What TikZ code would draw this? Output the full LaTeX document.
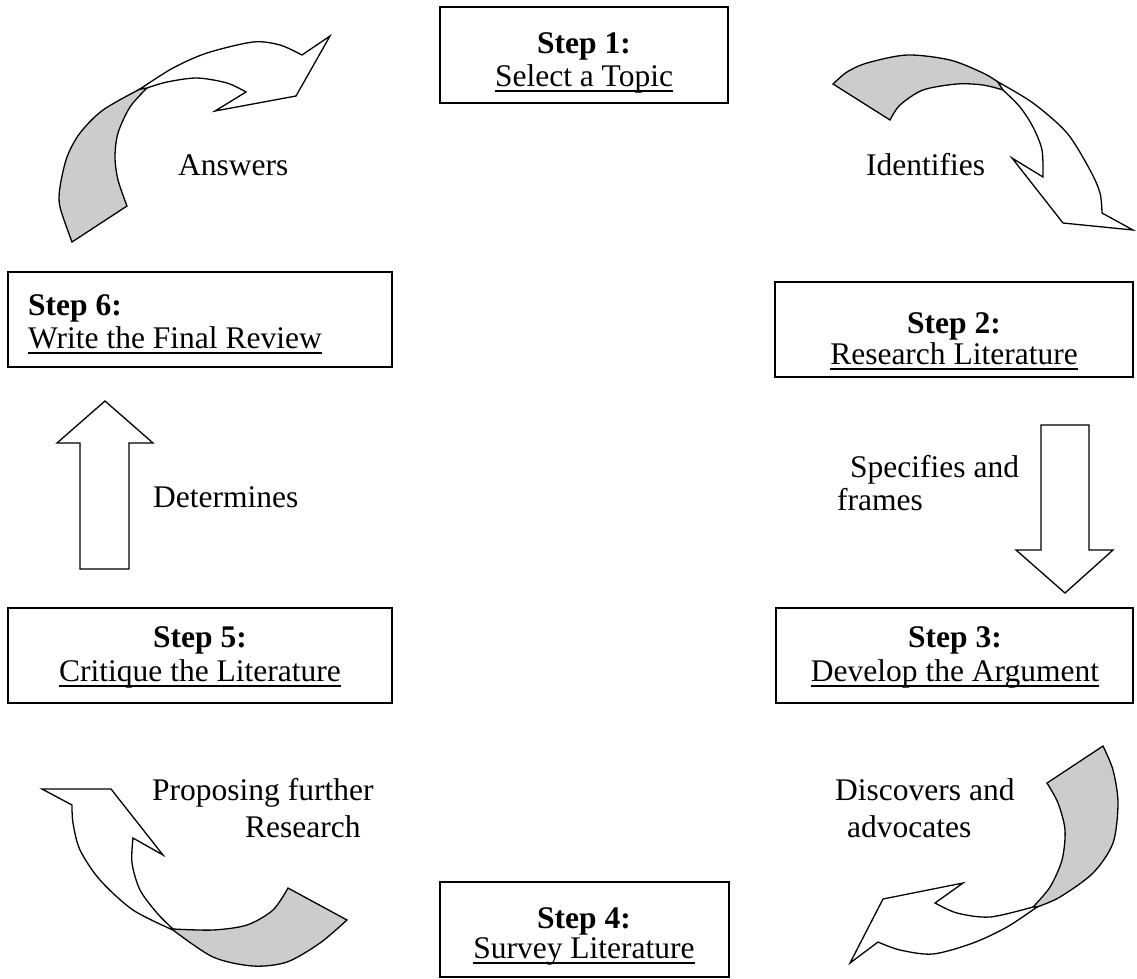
\documentclass[tikz,border=0pt]{standalone}
\usepackage{fontspec}
\setmainfont{Liberation Serif}
\usetikzlibrary{fit}
\definecolor{ribbon}{HTML}{CCCCCC}
\newcommand\myul[1]{\setbox0\hbox{#1}\rlap{\rule[-6pt]{\wd0}{1.8pt}}\box0}
\tikzset{
  stepbox/.style={draw, line width=1.6pt, inner sep=0pt, rectangle},
  lbl/.style={inner sep=0pt, font=\fontsize{31.5}{32}\selectfont},
  blockarrow/.style={draw, line width=1.3pt, fill=white, line join=miter},
  backside/.style={draw, line width=1.3pt, fill=ribbon, line join=miter},
}
\begin{document}
\begin{tikzpicture}[x=1pt,y=-1pt]
\useasboundingbox (0,0) rectangle (1137,978);

% step boxes
\node[stepbox, fit={(440,7)(728,103)}] (s1) {};
\node[stepbox, fit={(775,282)(1133,377)}] (s2) {};
\node[stepbox, fit={(776,608)(1133,703)}] (s3) {};
\node[stepbox, fit={(440,882)(729,977)}] (s4) {};
\node[stepbox, fit={(8,608)(392,703)}] (s5) {};
\node[stepbox, fit={(8,272)(392,367)}] (s6) {};

\node[lbl, anchor=base] (s1a) at (584,53) {\bfseries Step 1:};
\node[lbl, anchor=base] (s1b) at (584,86) {\myul{Select a Topic}};
\node[lbl, anchor=base] (s2a) at (954,333) {\bfseries Step 2:};
\node[lbl, anchor=base] (s2b) at (954,364) {\myul{Research Literature}};
\node[lbl, anchor=base] (s3a) at (955,647) {\bfseries Step 3:};
\node[lbl, anchor=base] (s3b) at (955,681) {\myul{Develop the Argument}};
\node[lbl, anchor=base] (s4a) at (584,928) {\bfseries Step 4:};
\node[lbl, anchor=base] (s4b) at (584,958) {\myul{Survey Literature}};
\node[lbl, anchor=base] (s5a) at (200,647) {\bfseries Step 5:};
\node[lbl, anchor=base] (s5b) at (200,681) {\myul{Critique the Literature}};
\node[lbl, anchor=base west] (s6a) at (28,315) {\bfseries Step 6:};
\node[lbl, anchor=base west] (s6b) at (28,348) {\myul{Write the Final Review}};

% straight block arrows
\draw[blockarrow] (1041,425) -- (1089,425) -- (1089,550) -- (1113,550) -- (1065,593) -- (1016,550) -- (1041,550) -- cycle;
\draw[blockarrow] (80,569) -- (80,443) -- (57,443) -- (105,401) -- (153,443) -- (129,443) -- (129,569) -- cycle;

% top-left curved arrow (Answers)
\draw[backside] plot[smooth] coordinates {(72,242) (60,207) (60,187) (67,157) (80,133) (103,110) (140,89)}
  -- plot[smooth] coordinates {(147,88) (130,107) (118,133) (115,157) (118,180) (127,206)} -- cycle;
\draw[blockarrow] plot[smooth] coordinates {(140,89) (173,68) (207,53) (253,42) (280,45) (302,55)}
  -- (330,36) -- (296,96) -- (215,111)
  -- plot[smooth] coordinates {(246,92) (227,83) (197,78) (167,82) (147,88)} -- cycle;

% top-right curved arrow (Identifies)
\draw[backside] plot[smooth] coordinates {(833,84) (847,72) (867,63) (907,55) (950,60) (983,73) (998,82)}
  -- plot[smooth] coordinates {(1003,90) (983,85) (957,84) (923,90) (900,105) (890,120)} -- cycle;
\draw[blockarrow] plot[smooth] coordinates {(998,82) (1033,103) (1067,133) (1090,170) (1100,193) (1102,213)}
  -- (1133,230) -- (1063,223) -- (1012,158)
  -- plot[smooth] coordinates {(1043,177) (1042,150) (1033,127) (1020,107) (1003,90)} -- cycle;

% bottom-right curved arrow (Discovers and advocates)
\draw[backside] plot[smooth] coordinates {(1103,746) (1113,770) (1118,803) (1113,843) (1093,873) (1060,897) (1037,907)}
  -- plot[smooth] coordinates {(1033,907) (1050,887) (1062,860) (1065,830) (1058,803) (1047,783)} -- cycle;
\draw[blockarrow] plot[smooth] coordinates {(1037,907) (1007,927) (973,943) (933,954) (900,950) (878,942)}
  -- (850,963) -- (883,899) -- (963,883)
  -- plot[smooth] coordinates {(935,903) (957,913) (990,917) (1033,907)} -- cycle;

% bottom-left curved arrow (Proposing further Research)
\draw[backside] plot[smooth] coordinates {(347,920) (320,943) (287,962) (253,966) (213,957) (173,930)}
  -- plot[smooth] coordinates {(173,929) (213,930) (247,925) (273,910) (288,888)} -- cycle;
\draw[blockarrow] plot[smooth] coordinates {(173,930) (133,910) (100,880) (80,850) (73,823) (72,805)}
  -- (42,789) -- (111,789) -- (163,855)
  -- plot[smooth] coordinates {(133,838) (132,863) (140,890) (157,913) (173,929)} -- cycle;

% arrow labels
\node[lbl, anchor=base west] (l1) at (178,175) {Answers};
\node[lbl, anchor=base west] (l2) at (866,175) {Identifies};
\node[lbl, anchor=base west] (l3a) at (850,477) {Specifies and};
\node[lbl, anchor=base west] (l3b) at (837,510) {frames};
\node[lbl, anchor=base west] (l4a) at (835,800) {Discovers and};
\node[lbl, anchor=base west] (l4b) at (847,837) {advocates};
\node[lbl, anchor=base west] (l5a) at (152,800) {Proposing further};
\node[lbl, anchor=base west] (l5b) at (245,837) {Research};
\node[lbl, anchor=base west] (l6) at (153,507) {Determines};
\end{tikzpicture}
\end{document}
